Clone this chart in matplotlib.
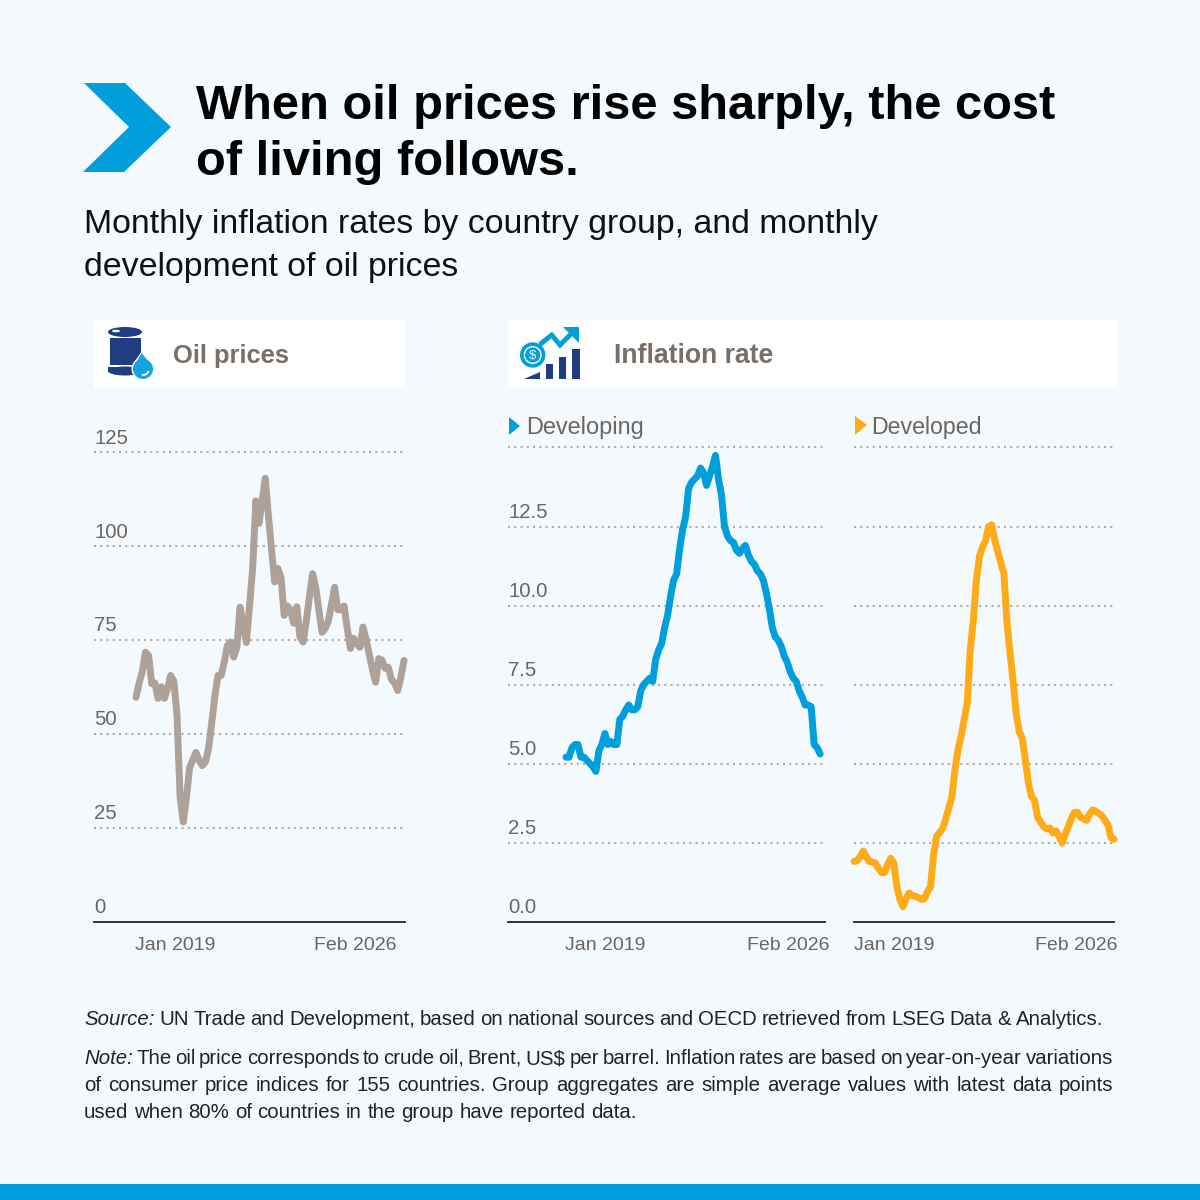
import numpy as np
import matplotlib
matplotlib.use('Agg')
import matplotlib.pyplot as plt
from matplotlib.patches import Polygon, Rectangle, Circle, Ellipse, Arc

oil_prices = [59.7, 63.5, 66.5, 71.7, 70.8, 63.3, 63.5, 59.4, 62.5, 59.4, 62, 65.5,
              64, 55, 33, 26.5, 33, 41, 43, 45, 43, 41.5, 42.5, 46,
              52.7, 60, 65.5, 65.5, 69, 73.5, 74.4, 70.4, 73, 83.7, 79, 74.3,
              84, 94, 112, 106, 112, 118, 108, 99, 90.4, 94, 91.5, 81.5,
              84, 83, 79.4, 83.8, 75.7, 74.4, 80, 86.5, 92.6, 89, 83, 77,
              78, 80, 84.5, 89, 83, 83, 84, 78, 72.7, 75.4, 74, 73,
              78.4, 75, 71, 67, 63.7, 70, 69.6, 67.4, 67.7, 64.5, 63.5, 61.5,
              65, 69.5]
developing = [5.2, 5.2, 5.5, 5.6, 5.6, 5.2, 5.2, 5.1, 5.0, 4.9, 4.75, 5.4,
              5.6, 5.95, 5.6, 5.7, 5.6, 5.6, 6.4, 6.5, 6.7, 6.85, 6.7, 6.7,
              6.8, 7.3, 7.5, 7.6, 7.7, 7.6, 8.3, 8.6, 8.8, 9.3, 9.7, 10.3,
              10.8, 11.0, 11.8, 12.4, 12.8, 13.7, 13.9, 14.0, 14.1, 14.35, 14.2, 13.8,
              14.1, 14.4, 14.75, 14.0, 13.5, 12.5, 12.2, 12.05, 12.0, 11.75, 11.65, 11.8,
              11.9, 11.6, 11.4, 11.3, 11.1, 11.0, 10.8, 10.4, 9.9, 9.3, 9.0, 8.9,
              8.7, 8.4, 8.2, 7.9, 7.7, 7.6, 7.3, 7.1, 6.85, 6.85, 6.8, 5.6,
              5.5, 5.3]
developed = [1.9, 1.92, 2.05, 2.23, 2.05, 1.9, 1.88, 1.85, 1.68, 1.55, 1.55, 1.8,
             2.0, 1.85, 1.1, 0.7, 0.47, 0.72, 0.9, 0.82, 0.8, 0.76, 0.7, 0.72,
             0.94, 1.1, 2.1, 2.7, 2.82, 2.95, 3.25, 3.6, 3.95, 4.8, 5.45, 5.85,
             6.4, 6.9, 8.6, 9.54, 10.8, 11.55, 11.85, 12.05, 12.5, 12.55, 12.07, 11.7,
             11.35, 11.0, 9.45, 8.5, 7.6, 6.6, 6.0, 5.8, 5.1, 4.38, 3.95, 3.84,
             3.3, 3.15, 3.0, 2.93, 2.96, 2.8, 2.87, 2.7, 2.48, 2.75, 3.0, 3.25,
             3.45, 3.46, 3.3, 3.25, 3.2, 3.4, 3.53, 3.48, 3.42, 3.35, 3.2, 3.05,
             2.65, 2.6]
oil_ticks = [0, 25, 50, 75, 100, 125]
inflation_ticks = [0.0, 2.5, 5.0, 7.5, 10.0, 12.5, 15.0]
date_labels = ['Jan 2019', 'Feb 2026']

BG = '#F4F9FE'
BLUE = '#009EDB'
ORANGE = '#FFAB18'
TAUPE = '#AEA197'
TEXT_GREY = '#6E655E'
NAVY = '#1F3D7F'
SANS = ['Liberation Sans', 'DejaVu Sans']

fig = plt.figure(figsize=(12, 12), dpi=100, facecolor=BG)
bg = fig.add_axes([0, 0, 1, 1])
bg.set_xlim(0, 1200)
bg.set_ylim(1200, 0)
bg.axis('off')


def chart(left, right, top, values, ticks, ymax, x0, step, tick_pos, color, ylabels, fmt):
    bottom = 921.5
    ax = fig.add_axes([left / 1200, 1 - bottom / 1200, (right - left) / 1200, (bottom - top) / 1200])
    ax.patch.set_alpha(0)
    ax.set_xlim((left - x0) / step, (right - x0) / step)
    ax.set_ylim(0, ymax)
    for t in ticks[1:]:
        ax.axhline(t, color='#B3ADA6', lw=1.5, ls=(0, (1, 2)), zorder=1, clip_on=False)
    ax.plot(np.arange(len(values)), values, color=color, lw=5, solid_joinstyle='round',
            solid_capstyle='round', zorder=3, clip_on=False)
    for s in ['top', 'left', 'right']:
        ax.spines[s].set_visible(False)
    ax.spines['bottom'].set_color('#222222')
    ax.spines['bottom'].set_linewidth(1.3)
    ax.set_yticks([])
    ax.set_xticks(tick_pos)
    ax.set_xticklabels(date_labels, family=SANS, fontsize=14, color=TEXT_GREY)
    ax.tick_params(axis='x', length=0, pad=11.5)
    if ylabels:
        for t in ticks[:-1] if ymax < 20 else ticks:
            ax.annotate(fmt % t, (0, t), xycoords=ax.get_yaxis_transform(), xytext=(0, 6),
                        textcoords='offset points', family=SANS, fontsize=14.7,
                        color=TEXT_GREY, ha='left', va='baseline')
    return ax


chart(94, 405, 452, oil_prices, oil_ticks, 125, 136, 3.153, [12.4, 69.5], TAUPE, True, '%d')
chart(508, 825, 447.5, developing, inflation_ticks, 15, 566, 2.99, [13, 74.2], BLUE, True, '%.1f')
chart(854, 1114, 447.5, developed, inflation_ticks, 15, 854, 3.06, [13, 72.5], ORANGE, False, '%.1f')

# header
bg.add_patch(Polygon([(84, 83), (125, 83), (171, 127), (124, 172), (83, 172), (129, 127)], color=BLUE, lw=0))
bg.text(196, 119, 'When oil prices rise sharply, the cost', family=SANS, weight='bold', fontsize=35.2, color='black')
bg.text(196, 175, 'of living follows.', family=SANS, weight='bold', fontsize=35.2, color='black')
bg.text(84, 233, 'Monthly inflation rates by country group, and monthly', family=SANS, fontsize=24.4, color='#111111')
bg.text(84, 276, 'development of oil prices', family=SANS, fontsize=24.4, color='#111111')

# panels
bg.add_patch(Rectangle((94, 320), 311, 68, color='white', lw=0))
bg.add_patch(Rectangle((508, 320), 609, 68, color='white', lw=0))
bg.text(173, 363, 'Oil prices', family=SANS, weight='bold', fontsize=18.4, color='#7A6F68')
bg.text(614, 363, 'Inflation rate', family=SANS, weight='bold', fontsize=19.2, color='#7A6F68')

# barrel icon
bg.add_patch(Ellipse((125, 332), 34, 10, color=NAVY, lw=0))
bg.add_patch(Ellipse((116, 331), 8, 2.6, color='white', lw=0))
bg.add_patch(Rectangle((109.5, 338), 31, 27, color=NAVY, lw=0))
bg.add_patch(Ellipse((125, 371), 34, 9, color=NAVY, lw=0))
bg.add_patch(Rectangle((108, 366.5), 34, 4, color=NAVY, lw=0))
bg.add_patch(Polygon([(141.7, 351), (132, 366), (153, 366)], color='white', lw=0))
bg.add_patch(Circle((143, 369), 11.5, color='white', lw=0))
bg.add_patch(Polygon([(141.7, 353), (134, 366), (152, 366)], color='#12A5E0', lw=0))
bg.add_patch(Circle((143, 369), 10, color='#12A5E0', lw=0))
bg.add_patch(Arc((143, 369), 12, 12, theta1=20, theta2=100, color='white', lw=1.5))

# inflation icon
bg.plot([541.7, 551.7, 560, 572], [343, 335, 345, 333], color=BLUE, lw=3.5, solid_joinstyle='miter')
bg.add_patch(Polygon([(563, 327), (579, 327), (579, 343)], color=BLUE, lw=0))
bg.add_patch(Circle((532.7, 355), 12.7, color=BLUE, lw=0))
bg.add_patch(Circle((532.7, 355), 9, color='white', lw=0))
bg.add_patch(Circle((532.7, 355), 7.6, color=BLUE, lw=0))
bg.text(532.7, 355.5, '$', family=SANS, fontsize=9.5, color='white', ha='center', va='center')
bg.add_patch(Polygon([(524, 379), (540, 379), (540, 372)], color=NAVY, lw=0))
bg.add_patch(Rectangle((546, 364), 7, 15, color=NAVY, lw=0))
bg.add_patch(Rectangle((559, 357), 7, 22, color=NAVY, lw=0))
bg.add_patch(Rectangle((572, 349), 7.5, 30, color=NAVY, lw=0))

# group labels
bg.add_patch(Polygon([(509, 417), (520, 426), (509, 435)], color=BLUE, lw=0))
bg.text(526, 434, 'Developing', family=SANS, fontsize=16.9, color=TEXT_GREY)
bg.add_patch(Polygon([(855, 416), (867, 425), (855, 435)], color=ORANGE, lw=0))
bg.text(871, 434, 'Developed', family=SANS, fontsize=16.7, color=TEXT_GREY)

# footer
renderer = fig.canvas.get_renderer()


def text_width(s, **kw):
    t = bg.text(0, 0, s, **kw)
    w = t.get_window_extent(renderer).width
    t.remove()
    return w


def set_line(y, words, right=None, size=14.7):
    # words are (text, style) pairs, spread out to the right edge when one is given
    widths = [text_width(w, family=SANS, style=st, fontsize=size) for w, st in words]
    space = text_width('a a', family=SANS, fontsize=size) - text_width('aa', family=SANS, fontsize=size)
    if right is not None:
        space = (right - 84 - sum(widths)) / (len(words) - 1)
    x = 84
    for (w, st), wd in zip(words, widths):
        bg.text(x, y, w, family=SANS, style=st, fontsize=size, color='#222222')
        x += wd + space


def plain(s):
    return [(w, 'normal') for w in s.split()]


set_line(1025, [('Source:', 'italic')] + plain('UN Trade and Development, based on national sources and OECD retrieved from LSEG Data & Analytics.'), right=1103)
set_line(1064, [('Note:', 'italic')] + plain('The oil price corresponds to crude oil, Brent, US$ per barrel. Inflation rates are based on year-on-year variations'), right=1113)
set_line(1091, plain('of consumer price indices for 155 countries. Group aggregates are simple average values with latest data points'), right=1113)
set_line(1118, plain('used when 80% of countries in the group have reported data.'))

bg.add_patch(Rectangle((0, 1184), 1200, 16, color=BLUE, lw=0))

fig.savefig('out.png', dpi=100, facecolor=BG)
